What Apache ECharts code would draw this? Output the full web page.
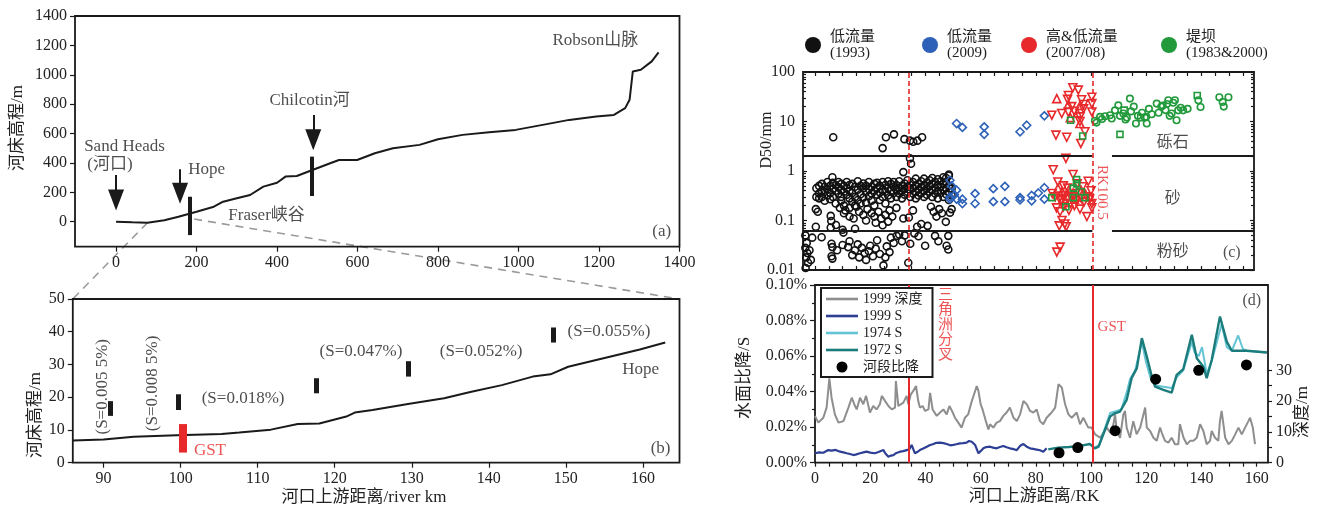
<!DOCTYPE html>
<html lang="zh">
<head>
<meta charset="UTF-8">
<title>Fraser河 河床剖面与比降</title>
<script src="https://cdn.jsdelivr.net/npm/echarts@6/dist/echarts.min.js"></script>
<style>
html, body { margin: 0; padding: 0; background: #fff; }
#main { width: 1320px; height: 507px; }
</style>
</head>
<body>
<div id="main"></div>
<script>
var FONT = "'Liberation Serif','Noto Sans CJK SC',serif";
var INK = '#1a1a1a';
var RED = '#e8292b';

// ---------- (a) 全河段河床高程 ----------
var profileA = [[0,0],[40,-4],[78,-7],[120,10],[155,34],[200,68],[243,102],[266,136],[300,160],[333,182],[366,239],[400,265],[421,307],[449,311],[488,352],[532,398],[554,420],[599,420],[643,466],[688,500],[754,523],[800,561],[861,591],[927,609],[993,625],[1060,659],[1126,693],[1193,716],[1237,727],[1265,773],[1276,830],[1284,1023],[1304,1034],[1331,1091],[1348,1152]];
var barsA = [[183,-91,170],[487,175,443]];
var arrowsA = [[0,318,148],[159,357,193],[490,727,557]];
var labelsA = [['Sand Heads',21,510],['(河口)',-15,386],['Hope',225,352],['Fraser峡谷',374,39],['Chilcotin河',481,828],['Robson山脉',1191,1231],['(a)',1356,-68]];
var zoomFrom = [[78,-7],[194,18]];

// ---------- (b) 下游段河床高程 ----------
var profileB = [[86,6.8],[90,7.1],[93.9,7.9],[99.5,8.4],[105.3,8.8],[107.6,9.2],[111.7,10.1],[115.2,11.8],[118,12],[121.5,14.1],[122.6,15.3],[124.9,16.1],[129.5,17.9],[134.2,19.7],[137.6,21.6],[141.7,23.7],[145.7,26.3],[148,27],[150.3,29.3],[156.1,32.6],[159.6,34.6],[162.9,36.7]];
var barsB = [[90.9,14.3,18.8],[99.7,16.1,20.9],[117.6,21.2,25.8],[129.5,26.3,31],[148.4,36.7,41.3]];
var gstB = [100.3,3.1,11.8];
var labelsB = [['(S=0.005 5%)',89.8,23.2,90],['(S=0.008 5%)',96.3,24.2,90],['(S=0.018%)',108.1,19.7,0],['(S=0.047%)',123.4,33.9,0],['(S=0.052%)',139,34.1,0],['(S=0.055%)',155.6,40.2,0],['Hope',159.7,28.5,0],['(b)',162.3,4.4,0]];
var zoomTo = [[86,50],[164.75,50]];

// ---------- (c) D50 ----------
var NAME93 = '低流量\n(1993)', NAME09 = '低流量\n(2009)', NAME07 = '高&低流量\n(2007/08)', NAMEDAM = '堤坝\n(1983&2000)';
var d50_1993 = [
  [6.6,4.8],[24.5,2.9],[25.7,4.8],[28.6,5.5],[32.4,4.4],[34.4,4.1],[35.6,3.9],[37.1,4.1],[38.8,4.8],
  [6.3,0.75],[32,0.95],[34.4,1.8],[34.8,1.4],[48.5,0.85],[47.5,0.72],
  [0.5,0.45],[0.5,0.3],[1.5,0.5],[1.5,0.35],[1.5,0.28],[2.5,0.55],[2.5,0.4],[2.5,0.3],[3.5,0.38],[3.5,0.48],[3.5,0.25],
  [4.5,0.6],[4.5,0.42],[4.5,0.32],[5.5,0.5],[5.5,0.36],[5.5,0.27],[6.5,0.44],[6.5,0.58],[6.5,0.3],[7.5,0.4],[7.5,0.52],[7.5,0.22],
  [8.5,0.35],[8.5,0.47],[8.5,0.6],[9.5,0.3],[9.5,0.42],[9.5,0.25],[9.5,0.55],[10.5,0.5],[10.5,0.38],[10.5,0.2],
  [11.5,0.45],[11.5,0.33],[11.5,0.6],[12.5,0.4],[12.5,0.28],[12.5,0.52],[12.5,0.18],[13.5,0.55],[13.5,0.36],[13.5,0.24],
  [14.5,0.48],[14.5,0.3],[14.5,0.2],[15.5,0.42],[15.5,0.62],[15.5,0.26],[16.5,0.5],[16.5,0.34],[16.5,0.22],
  [17.5,0.45],[17.5,0.56],[17.5,0.29],[18.5,0.38],[18.5,0.5],[18.5,0.23],[19.5,0.6],[19.5,0.43],[19.5,0.31],
  [20.5,0.48],[20.5,0.35],[20.5,0.25],[21.5,0.55],[21.5,0.4],[21.5,0.2],[22.5,0.46],[22.5,0.33],[22.5,0.58],
  [23.5,0.5],[23.5,0.37],[23.5,0.26],[24.5,0.42],[24.5,0.6],[24.5,0.3],[25.5,0.52],[25.5,0.38],[25.5,0.22],
  [26.5,0.45],[26.5,0.32],[26.5,0.62],[27.5,0.4],[27.5,0.55],[27.5,0.28],[28.5,0.48],[28.5,0.36],[28.5,0.6],
  [29.5,0.52],[29.5,0.42],[29.5,0.3],[30.5,0.45],[30.5,0.62],[30.5,0.35],[31.5,0.5],[31.5,0.4],[31.5,0.28],
  [32.5,0.56],[32.5,0.44],[32.5,0.33],[33.5,0.48],[33.5,0.38],[33.5,0.65],[34.5,0.52],[34.5,0.42],[34.5,0.3],
  [35.5,0.6],[35.5,0.45],[35.5,0.35],[36.5,0.5],[36.5,0.38],[36.5,0.7],[36.5,0.28],[37.5,0.55],[37.5,0.42],[37.5,0.32],
  [38.5,0.62],[38.5,0.48],[38.5,0.36],[39.5,0.5],[39.5,0.4],[39.5,0.7],[39.5,0.3],[40.5,0.58],[40.5,0.44],[40.5,0.33],
  [41.5,0.65],[41.5,0.5],[41.5,0.38],[42.5,0.55],[42.5,0.42],[42.5,0.72],[42.5,0.3],[43.5,0.6],[43.5,0.46],[43.5,0.35],
  [44.5,0.52],[44.5,0.4],[44.5,0.68],[44.5,0.28],[45.5,0.62],[45.5,0.48],[45.5,0.36],[46.5,0.55],[46.5,0.42],[46.5,0.75],[46.5,0.3],
  [47.5,0.6],[47.5,0.45],[47.5,0.34],[48.5,0.5],[48.5,0.38],[48.5,0.8],[48.5,0.26],[49.5,0.44],[49.5,0.32],
  [0.3,0.17],[0.3,0.075],[1,0.15],[5.7,0.124],[5.9,0.098],[5.7,0.072],[7.6,0.081],[9,0.18],[10.5,0.14],[11,0.16],
  [12.5,0.12],[14,0.11],[15,0.19],[16,0.15],[17.5,0.13],[18.5,0.1],[19,0.17],[20.5,0.14],[21.5,0.12],[22,0.09],
  [23,0.15],[24,0.11],[24.5,0.08],[25.5,0.13],[26.5,0.095],[27,0.16],[28,0.12],[29.5,0.18],[32,0.11],[34,0.115],
  [35.5,0.16],[37,0.075],[38.5,0.085],[40.8,0.078],[42,0.19],[43,0.15],[44,0.12],[45,0.17],[46,0.14],[47.4,0.094],
  [48.9,0.144],[49.5,0.17],[10,0.065],[14.5,0.068],
  [-3.5,0.05],[-3,0.035],[-3.5,0.028],[-2.8,0.022],[-3.2,0.018],[-2.5,0.014],[-3.4,0.011],[-1.5,0.016],[-1,0.045],[-2,0.025],
  [2.4,0.046],[6,0.034],[6.3,0.029],[6,0.019],[6.3,0.017],[8,0.025],[10.3,0.057],[10,0.032],[12,0.029],[12.5,0.038],
  [13.5,0.02],[14.5,0.025],[15.5,0.033],[16,0.018],[17,0.028],[18,0.022],[18.5,0.016],[19.5,0.024],[20,0.031],[21,0.019],
  [22,0.027],[22.5,0.04],[23.5,0.021],[24.8,0.0124],[25.5,0.018],[26,0.03],[27,0.023],[27.5,0.045],[28.5,0.035],[29.6,0.049],
  [30.5,0.052],[31.5,0.038],[32.5,0.05],[33.8,0.014],[34.5,0.034],[36,0.055],[37.5,0.048],[39.9,0.031],[43.5,0.049],
  [44.7,0.038],[47.7,0.031],[48.3,0.049],[48.3,0.026]
];
var d50_2009 = [[51.3,9.1],[53.4,7.6],[61.3,7.8],[61.3,5.5],[74.3,6.2],[76.7,8.4],[83.1,13],
  [48.9,0.65],[51.3,0.41],[48.9,0.3],[48.9,0.27],[51.3,0.27],[53.4,0.27],[53.4,0.22],[58,0.35],[58,0.22],[64.6,0.44],[64.6,0.24],
  [68.8,0.49],[68.8,0.24],[74.3,0.29],[74.3,0.26],[78.5,0.32],[78.5,0.25],[80.9,0.36],[83.1,0.46],[83.1,0.27],[50.5,0.33],[49.5,0.5]];
var d50_0708down = [[93.4,48],[95.4,43],[91.8,33.5],[91.5,28],[96.6,27.5],[100.3,31],[100.3,23],[100.3,15.6],[85.8,13.4],[89.4,14.5],
  [91.8,15.5],[96,12.4],[96,10],[97.3,18],[97.3,22],[87.3,5.3],[91.2,4.8],[97.8,6.2],[96.3,3.6],[90.9,1.8],[93,20],[94,16],
  [86.3,1.06],[93.5,0.85],[88,0.6],[90,0.5],[91.5,0.45],[95,0.55],[97,0.48],[99,0.62],[100,0.4],[86,0.35],[87,0.3],[88.5,0.28],
  [89.5,0.25],[90.5,0.32],[91.5,0.27],[92.5,0.22],[93.5,0.3],[94.5,0.26],[95.5,0.35],[96.5,0.28],[97.5,0.24],[98.5,0.3],[99.5,0.27],
  [100.3,0.22],[100.3,0.18],[87.5,0.18],[88.8,0.15],[90,0.19],[92,0.16],[94,0.2],[96,0.17],[98.5,0.12],[89.5,0.1],[90.5,0.085],
  [91,0.075],[88.5,0.078],[88.8,0.029],[87.6,0.023]];
var d50_0708up = [[87.6,29],[96,21],[96,9.1],[91.8,22],[95,15],[92.5,12],
  [88,0.45],[89.5,0.38],[91,0.32],[92,0.42],[93.5,0.36],[95,0.3],[96.5,0.4],[98,0.34],[99.5,0.3],[90.5,0.25],[94,0.27]];
var d50_damCircle = [[101.4,10.3],[103.3,12.4],[105.1,12.8],[106.9,13.4],[108.7,16.8],[109.9,21.2],[111.7,14.5],[112.5,11],[114.1,29],
  [114.5,16],[116.3,9.1],[117,13],[118.5,15],[119.5,12],[120.2,9.1],[121,18],[122,14],[123.8,23],[124.5,15],[125.5,20],[127,17],
  [128,26.8],[128.5,13],[129.2,14.5],[130.4,26.8],[131,10.6],[131.6,16.8],[132.5,19],[133.4,16.8],[135,18],[138.9,26.8],[139.7,19.6],
  [146.5,31],[147.7,24.7],[148.1,20],[149.8,31],[102,9.5],[104,11.2],[107.5,11.5],[110.5,13],[113,12],[115.5,20],[120,12.5],
  [126,21],[127.5,22.5],[129.8,24]];
var d50_damSquare = [[92.6,10.6],[97,5.1],[110.5,5.5],[138.5,33.6],[112,17],[118,12],
  [94.8,0.67],[94.8,0.55],[93.6,0.45],[93.6,0.29],[97.8,0.29],[90.9,0.19],[85.8,0.29],[96.5,0.38]];
var labelsC = [['砾石',129.6,3.7,0],['砂',129.6,0.28,0],['粉砂',129.6,0.023,0],['(c)',151,0.022,0]];
var gravelLimit = 2, siltLimit = 0.0625;

// ---------- (d) 比降与深度 ----------
var depth1999 = [[0,15.2],[1.2,13.0],[3.0,14.6],[4.2,17.9],[5.2,27.4],[6.0,21.1],[7.2,15.7],[8.5,13.0],[10.3,13.5],[12.1,17.9],
  [13.3,21.1],[14.5,18.4],[15.1,17.3],[16.3,21.1],[17.5,19.0],[18.5,21.7],[19.9,16.3],[21.1,18.4],[22.3,17.3],[23.5,19.0],
  [24.2,21.7],[25.4,20.0],[26.6,18.4],[27.8,17.3],[29.0,17.9],[29.3,26.5],[30.2,18.4],[30.8,19.0],[32.0,19.5],[33.2,21.7],
  [33.8,19.0],[34.7,22.2],[35.6,23.3],[36.6,24.9],[37.4,20.0],[38.0,17.9],[39.0,18.4],[39.9,16.8],[41.1,17.3],[41.7,22.7],
  [42.6,17.3],[44.1,15.2],[45.3,16.3],[46.5,17.3],[47.7,15.7],[48.7,18.4],[49.9,16.3],[50.7,14.6],[51.9,13.0],[53.1,11.4],
  [54.3,14.6],[55.5,15.7],[56.8,20.0],[58.6,24.9],[59.2,23.3],[60.0,19.0],[60.7,17.3],[61.2,15.7],[61.9,13.5],[62.8,10.8],
  [63.4,12.5],[64.6,11.4],[65.8,13.0],[67.0,13.5],[68.2,15.2],[69.4,16.3],[70.6,17.9],[71.9,14.6],[73.1,13.5],[74.3,15.7],
  [75.5,20.0],[76.7,19.0],[77.9,16.8],[79.1,16.3],[80.3,17.3],[81.5,13.5],[82.7,12.5],[83.9,14.6],[85.7,16.3],[87.0,17.9],
  [88.2,25.5],[89.4,24.4],[90.6,19.0],[91.8,15.7],[93.0,14.6],[94.8,16.3],[96.0,12.5],[97.2,14.6],[99.0,11.4],[100.2,11.4],
  [101.5,9.2],[103.3,8.1],[105.7,11.4],[106.9,9.8],[108.1,12.5],[108.7,15.7],[109.3,10.3],[110.5,8.1],[111.7,15.7],[112.3,16.8],
  [112.9,11.4],[114.1,8.1],[115.3,13.5],[116.5,9.2],[117.8,11.4],[119.6,17.9],[120.2,11.4],[121.4,10.3],[122.6,8.1],[123.8,7.1],
  [125.0,11.4],[125.6,9.8],[126.8,7.1],[128.0,6.5],[129.2,8.1],[130.4,6.0],[131.6,6.0],[132.2,12.5],[133.5,8.1],[134.7,6.0],
  [135.9,7.1],[137.1,7.1],[138.3,8.1],[139.5,12.5],[140.7,10.3],[141.3,8.1],[141.9,6.0],[143.1,7.1],[143.7,10.3],[144.9,8.1],
  [146.1,7.1],[146.7,13.5],[147.3,16.8],[148.6,8.1],[149.8,6.0],[151.0,7.1],[152.2,9.2],[153.4,11.4],[154.6,9.2],[155.8,11.4],
  [157.0,13.5],[157.6,14.6],[158.6,11.4],[159.4,6.0]];
var slope1999 = [[0,0.0053],[1.5,0.0058],[3,0.0056],[4.8,0.0071],[6,0.0068],[7.5,0.0072],[9.1,0.0062],[10.3,0.0058],[11.5,0.0053],
  [12.7,0.0049],[13.9,0.0043],[15,0.0047],[16.3,0.0053],[17.5,0.0058],[18.7,0.0062],[20,0.0057],[21.7,0.0053],[23,0.006],
  [24.8,0.0071],[25.5,0.0052],[26.6,0.0034],[27.5,0.004],[28.4,0.0043],[29.5,0.0055],[30.8,0.0062],[32,0.0065],[33.2,0.0071],
  [34.2,0.0075],[35,0.01],[36.2,0.0053],[37,0.006],[38,0.0071],[39,0.0078],[40.5,0.009],[41.5,0.0098],[42.9,0.0105],[44,0.0112],
  [45.3,0.0113],[46.5,0.011],[47.7,0.0105],[49,0.0098],[50.1,0.01],[51.2,0.0104],[52.5,0.0109],[53.7,0.011],[54.9,0.0113],
  [55.8,0.0122],[56.8,0.0118],[58,0.01],[59.2,0.0053],[60,0.0065],[61,0.0081],[62,0.0088],[63.4,0.009],[64.5,0.0085],
  [65.8,0.0081],[67,0.0088],[68.2,0.0094],[69.4,0.0087],[70.6,0.0081],[72,0.0076],[73.1,0.0071],[74.3,0.0095],[75.5,0.0105],
  [76.7,0.009],[77.9,0.0081],[79,0.0078],[80.3,0.0074],[81.5,0.007],[82.7,0.0062],[83.9,0.0081]];
var slope1974 = [[101.4,0.0085],[103,0.01],[106.9,0.028],[109,0.029],[111,0.03],[113,0.04],[114.1,0.047],[116,0.052],[118.4,0.068],
  [120,0.056],[121.5,0.048],[123.2,0.0435],[126.2,0.0428],[129.2,0.042],[131,0.048],[133.4,0.052],[136.5,0.068],[137.5,0.062],
  [139,0.06],[140.2,0.065],[141.9,0.05],[143.7,0.057],[147.3,0.078],[149.2,0.065],[151,0.063],[153.3,0.0716],[155,0.064],
  [156.4,0.063],[163.7,0.062]];
var slope1972 = [[84.5,0.0075],[88,0.0085],[92,0.0088],[96,0.0095],[99.6,0.0105],[101.4,0.0081],[102.7,0.009],[106.9,0.026],
  [108.6,0.0278],[110.5,0.0288],[112.9,0.0353],[114.7,0.0476],[116.6,0.0532],[118.4,0.0701],[120.2,0.0597],[122,0.0485],
  [123.2,0.0428],[126.2,0.041],[129.2,0.0394],[131,0.0494],[133.4,0.0526],[136.5,0.072],[138.3,0.0588],[140.7,0.054],
  [141.9,0.0475],[143.7,0.0578],[146.7,0.0823],[149.2,0.068],[151,0.063],[156.4,0.063],[163.7,0.062]];
var reachSlope = [[88.4,0.0056],[95.2,0.0085],[108.7,0.018],[123.4,0.047],[139,0.052],[156.3,0.055]];
var deltaRK = 34, gstRK = 100.5;
var labelsD = [['(d)',158.2,0.0913,0]];

// ---------- helpers ----------
function range(a, b, s) { var r = []; for (var v = a; v <= b + 1e-9; v += s) r.push(Math.round(v * 1000) / 1000); return r; }
function textSeries(xi, yi, list, extra) {
  return {
    type: 'scatter', xAxisIndex: xi, yAxisIndex: yi, symbolSize: 0, silent: true, z: 20,
    label: Object.assign({ show: true, position: 'inside', fontFamily: FONT, fontSize: 17, color: '#222' }, extra || {}),
    data: list.map(function (t) { return { value: [t[1], t[2]], label: { formatter: t[0], rotate: t[3] || 0 } }; })
  };
}
function vbar(b, w, c) {
  return [{ coord: [b[0], b[1]], lineStyle: { width: w, color: c, type: 'solid' } }, { coord: [b[0], b[2]] }];
}
function arrow(a) {
  return [{ coord: [a[0], a[1]], lineStyle: { width: 2, color: INK, type: 'solid' } },
          { coord: [a[0], a[2]], symbol: 'triangle', symbolSize: [16, 21] }];
}
function hollow(color) { return { color: 'rgba(0,0,0,0)', borderColor: color, borderWidth: 1.6, opacity: 1 }; }
function plain(v) { return String(v); }

var tickStyle = { color: INK, width: 1.2 };
var labelStyle = { fontFamily: FONT, fontSize: 16, color: '#222' };
var noLine = { show: false, onZero: false };
var LINE_ICON = 'path://M0,0H32V2.6H0Z';
function gridBox(l, t, w, h) {
  return { left: l, top: t, width: w, height: h, show: true, borderColor: INK, borderWidth: 1.8, backgroundColor: 'transparent' };
}

var legendText = { fontFamily: FONT, fontSize: 15, lineHeight: 16, color: '#222', padding: [0, 0, 0, 4] };
function topLegend(left, name, color) {
  return { left: left, top: 24, itemWidth: 16, itemHeight: 16, selectedMode: false, textStyle: legendText,
    data: [{ name: name, icon: 'circle', itemStyle: { color: color, borderColor: color, borderWidth: 0, opacity: 1 } }] };
}

var option = {
  animation: false,
  backgroundColor: '#fff',
  textStyle: { fontFamily: FONT },
  grid: [
    gridBox(75, 16, 604.5, 230.7),
    gridBox(72.8, 299, 606.7, 163.7),
    gridBox(803, 72, 451, 198),
    gridBox(815, 285, 453, 177.7)
  ],
  legend: [
    topLegend(800, NAME93, '#111'),
    topLegend(917, NAME09, '#2d62b8'),
    topLegend(1016, NAME07, RED),
    topLegend(1156, NAMEDAM, '#229a3c'),
    {
      left: 821, top: 288, orient: 'vertical', selectedMode: false, z: 30,
      backgroundColor: '#fff', borderColor: INK, borderWidth: 2, padding: [4, 10, 3, 5],
      itemGap: 3, itemWidth: 32, itemHeight: 11,
      textStyle: { fontFamily: FONT, fontSize: 14, lineHeight: 12, color: '#222' },
      data: [
        { name: '1999 深度', icon: LINE_ICON, itemStyle: { color: '#8e8e8e' } },
        { name: '1999 S', icon: LINE_ICON, itemStyle: { color: '#2d3f94' } },
        { name: '1974 S', icon: LINE_ICON, itemStyle: { color: '#62c4d4' } },
        { name: '1972 S', icon: LINE_ICON, itemStyle: { color: '#1c7c7c' } },
        { name: '河段比降', icon: 'circle', itemStyle: { color: '#000', opacity: 1 } }
      ]
    }
  ],
  xAxis: [
    { gridIndex: 0, type: 'value', min: -102, max: 1400, axisLine: noLine, splitLine: { show: false },
      axisTick: { customValues: range(0, 1400, 200), length: 5, lineStyle: tickStyle },
      axisLabel: Object.assign({ customValues: range(0, 1400, 200), margin: 8, formatter: plain }, labelStyle) },
    { gridIndex: 1, type: 'value', min: 86, max: 164.75, axisLine: noLine, splitLine: { show: false },
      axisTick: { customValues: range(90, 160, 10), length: 5, lineStyle: tickStyle },
      axisLabel: Object.assign({ customValues: range(90, 160, 10), margin: 8, formatter: plain }, labelStyle) },
    { gridIndex: 2, type: 'value', min: -4.35, max: 159.06, axisLine: noLine, splitLine: { show: false },
      axisTick: { inside: true, customValues: range(0, 155, 5), length: 4, lineStyle: tickStyle },
      axisLabel: { show: false } },
    { gridIndex: 2, type: 'value', position: 'top', min: -4.35, max: 159.06, axisLine: noLine, splitLine: { show: false },
      axisTick: { inside: true, customValues: range(0, 155, 5), length: 4, lineStyle: tickStyle },
      axisLabel: { show: false } },
    { gridIndex: 3, type: 'value', min: 0, max: 164.1, axisLine: noLine, splitLine: { show: false },
      axisTick: { customValues: range(0, 160, 5), length: 4, lineStyle: tickStyle },
      axisLabel: Object.assign({ customValues: range(0, 160, 20), margin: 8, formatter: plain }, labelStyle) }
  ],
  yAxis: [
    { gridIndex: 0, type: 'value', min: -170, max: 1400, axisLine: noLine, splitLine: { show: false },
      axisTick: { customValues: range(0, 1400, 200), length: 5, lineStyle: tickStyle },
      axisLabel: Object.assign({ customValues: range(0, 1400, 200), margin: 8, formatter: plain }, labelStyle) },
    { gridIndex: 1, type: 'value', min: 0, max: 50, interval: 10, axisLine: noLine, splitLine: { show: false },
      axisTick: { length: 5, lineStyle: tickStyle }, axisLabel: Object.assign({ margin: 8 }, labelStyle) },
    { gridIndex: 2, type: 'log', logBase: 10, min: 0.01, max: 100, axisLine: noLine, splitLine: { show: false },
      axisTick: { inside: true, length: 4, lineStyle: tickStyle },
      minorTick: { show: true, splitNumber: 9, length: 3, lineStyle: tickStyle },
      axisLabel: Object.assign({ margin: 8 }, labelStyle) },
    { gridIndex: 2, type: 'log', logBase: 10, position: 'right', min: 0.01, max: 100, axisLine: noLine, splitLine: { show: false },
      axisTick: { inside: true, length: 4, lineStyle: tickStyle },
      minorTick: { show: true, splitNumber: 9, length: 3, lineStyle: tickStyle },
      axisLabel: { show: false } },
    { gridIndex: 3, type: 'value', min: 0, max: 0.1, interval: 0.02, axisLine: noLine, splitLine: { show: false },
      axisTick: { length: 5, lineStyle: tickStyle },
      minorTick: { show: true, splitNumber: 2, length: 3, lineStyle: tickStyle },
      axisLabel: Object.assign({ margin: 8, formatter: function (v) { return v.toFixed(2) + '%'; } }, labelStyle) },
    { gridIndex: 3, type: 'value', position: 'right', min: 0, max: 57.7, axisLine: noLine, splitLine: { show: false },
      axisTick: { customValues: range(0, 30, 5), length: 4, lineStyle: tickStyle },
      axisLabel: Object.assign({ customValues: [0, 10, 20, 30], margin: 8 }, labelStyle) }
  ],
  series: [
    // (a)
    { type: 'line', xAxisIndex: 0, yAxisIndex: 0, data: profileA, symbol: 'none', lineStyle: { color: INK, width: 2 },
      markLine: { silent: true, symbol: 'none', label: { show: false }, animation: false,
        data: barsA.map(function (b) { return vbar(b, 4, INK); }).concat(arrowsA.map(arrow)) } },
    textSeries(0, 0, labelsA),
    // (b)
    { type: 'line', xAxisIndex: 1, yAxisIndex: 1, data: profileB, symbol: 'none', lineStyle: { color: INK, width: 2 },
      markLine: { silent: true, symbol: 'none', label: { show: false }, animation: false,
        data: barsB.map(function (b) { return vbar(b, 5, INK); }).concat([vbar(gstB, 8, RED)]) } },
    textSeries(1, 1, labelsB),
    textSeries(1, 1, [['GST', 103.8, 3.6, 0]], { color: RED, fontSize: 17 }),
    // (c)
    { name: NAME93, type: 'scatter', xAxisIndex: 2, yAxisIndex: 2, data: d50_1993, symbol: 'circle', symbolSize: 7,
      itemStyle: hollow('#111'),
      markLine: { silent: true, symbol: 'none', label: { show: false }, animation: false, z: 5,
        data: [
          [{ coord: [-4.35, gravelLimit], lineStyle: { color: INK, width: 2, type: 'solid' } }, { coord: [gstRK, gravelLimit] }],
          [{ coord: [107.6, gravelLimit], lineStyle: { color: INK, width: 2, type: 'solid' } }, { coord: [159.06, gravelLimit] }],
          [{ coord: [-4.35, siltLimit], lineStyle: { color: INK, width: 2, type: 'solid' } }, { coord: [gstRK, siltLimit] }],
          [{ coord: [107.6, siltLimit], lineStyle: { color: INK, width: 2, type: 'solid' } }, { coord: [159.06, siltLimit] }],
          { xAxis: deltaRK, lineStyle: { color: RED, width: 1.6, type: [5, 3] } },
          { xAxis: gstRK, lineStyle: { color: RED, width: 1.6, type: [5, 3] } }
        ] } },
    { name: NAME09, type: 'scatter', xAxisIndex: 2, yAxisIndex: 2, data: d50_2009, symbol: 'diamond', symbolSize: 8,
      itemStyle: hollow('#2d62b8') },
    { name: NAME07, type: 'scatter', xAxisIndex: 2, yAxisIndex: 2, data: d50_0708down, symbol: 'triangle', symbolRotate: 180,
      symbolSize: 8, itemStyle: hollow(RED) },
    { name: NAME07, type: 'scatter', xAxisIndex: 2, yAxisIndex: 2, data: d50_0708up, symbol: 'triangle',
      symbolSize: 8, itemStyle: hollow(RED) },
    { name: NAMEDAM, type: 'scatter', xAxisIndex: 2, yAxisIndex: 2, data: d50_damCircle, symbol: 'circle',
      symbolSize: 6.5, itemStyle: hollow('#229a3c') },
    { name: NAMEDAM, type: 'scatter', xAxisIndex: 2, yAxisIndex: 2, data: d50_damSquare, symbol: 'rect',
      symbolSize: 6, itemStyle: hollow('#229a3c') },
    textSeries(2, 2, labelsC, { fontSize: 16 }),
    textSeries(2, 2, [['RK100.5', 104, 0.37, -90]], { color: RED, fontSize: 15 }),
    // (d)
    { name: '1999 深度', type: 'line', xAxisIndex: 4, yAxisIndex: 5, data: depth1999, symbol: 'none',
      lineStyle: { color: '#8e8e8e', width: 2 }, itemStyle: { color: '#8e8e8e' },
      markLine: { silent: true, symbol: 'none', label: { show: false }, animation: false,
        data: [{ xAxis: deltaRK, lineStyle: { color: RED, width: 2, type: 'solid' } },
               { xAxis: gstRK, lineStyle: { color: RED, width: 2, type: 'solid' } }] } },
    { name: '1999 S', type: 'line', xAxisIndex: 4, yAxisIndex: 4, data: slope1999, symbol: 'none',
      lineStyle: { color: '#2d3f94', width: 2.2 }, itemStyle: { color: '#2d3f94' } },
    { name: '1974 S', type: 'line', xAxisIndex: 4, yAxisIndex: 4, data: slope1974, symbol: 'none',
      lineStyle: { color: '#62c4d4', width: 2 }, itemStyle: { color: '#62c4d4' } },
    { name: '1972 S', type: 'line', xAxisIndex: 4, yAxisIndex: 4, data: slope1972, symbol: 'none',
      lineStyle: { color: '#1c7c7c', width: 2.4 }, itemStyle: { color: '#1c7c7c' } },
    { name: '河段比降', type: 'scatter', xAxisIndex: 4, yAxisIndex: 4, data: reachSlope, symbol: 'circle', symbolSize: 11,
      itemStyle: { color: '#000', opacity: 1 }, z: 6 },
    textSeries(4, 4, labelsD, { fontSize: 16 }),
    textSeries(4, 4, [['GST', 107.5, 0.0766, 0], ['三\n角\n洲\n分\n叉', 47.3, 0.0776, 0]], { color: RED, fontSize: 15, lineHeight: 15 })
  ]
};

var chart = echarts.init(document.getElementById('main'));
chart.setOption(option);

// 放大示意虚线 + 坐标轴标题
var a1 = chart.convertToPixel({ gridIndex: 0 }, zoomFrom[0]);
var a2 = chart.convertToPixel({ gridIndex: 0 }, zoomFrom[1]);
var b1 = chart.convertToPixel({ gridIndex: 1 }, zoomTo[0]);
var b2 = chart.convertToPixel({ gridIndex: 1 }, zoomTo[1]);
function axisTitle(text, x, y, rot, size) {
  return { type: 'text', x: x, y: y, rotation: rot, silent: true,
    style: { text: text, fontFamily: FONT, fontSize: size || 17, fill: '#222', align: 'center', verticalAlign: 'middle' } };
}
function dashed(p, q) {
  return { type: 'line', silent: true, z: -1, shape: { x1: p[0], y1: p[1], x2: q[0], y2: q[1] },
    style: { stroke: '#9a9a9a', lineWidth: 1.6, lineDash: [8, 6] } };
}
chart.setOption({
  graphic: [
    dashed(a1, b1), dashed(a2, b2),
    axisTitle('河床高程/m', 18, 128, Math.PI / 2),
    axisTitle('河床高程/m', 36, 415, Math.PI / 2),
    axisTitle('河口上游距离/river km', 364, 498, 0),
    axisTitle('D50/mm', 767, 140, Math.PI / 2, 16),
    axisTitle('水面比降/S', 745, 378, Math.PI / 2),
    axisTitle('深度/m', 1303, 412, Math.PI / 2),
    axisTitle('河口上游距离/RK', 1034, 497, 0)
  ]
});
</script>
</body>
</html>
